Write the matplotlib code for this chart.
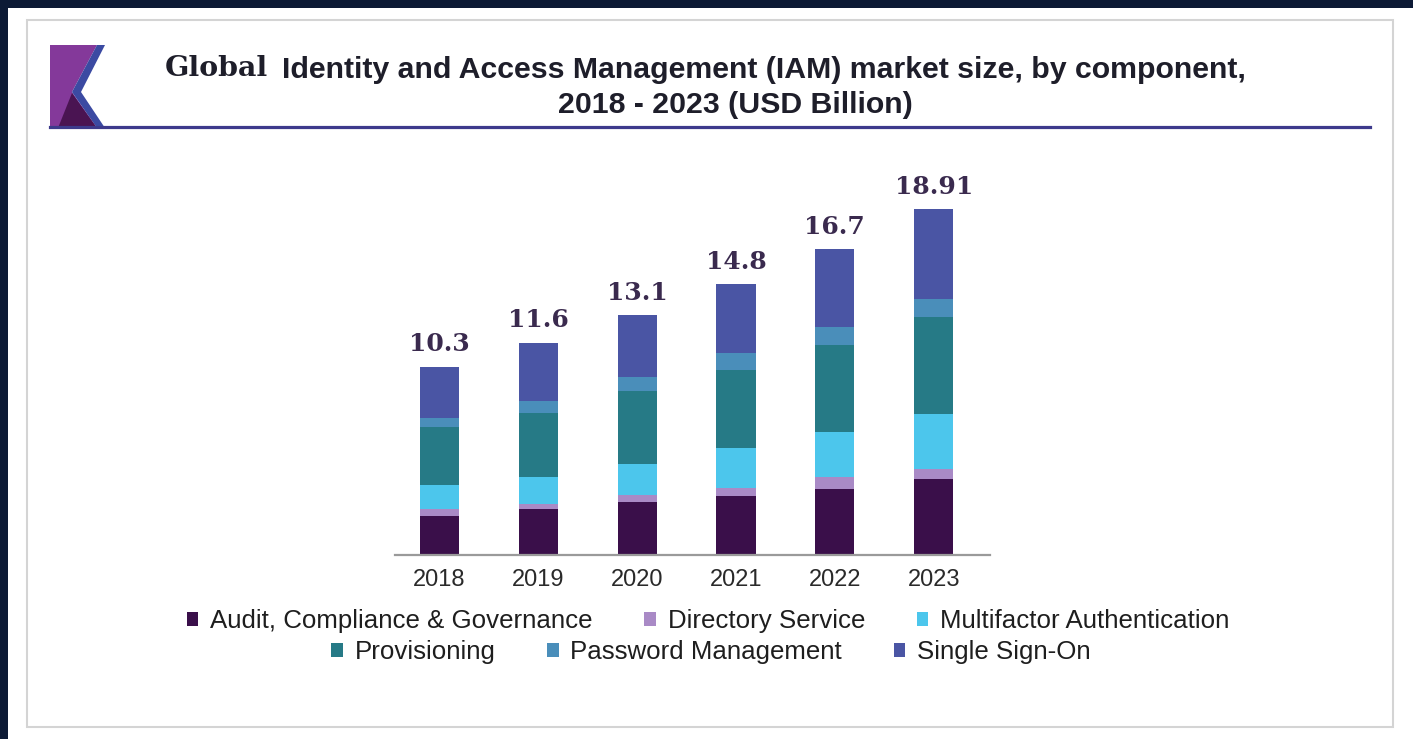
import matplotlib
matplotlib.use("Agg")
import matplotlib.pyplot as plt
from matplotlib.patches import Patch, Polygon, Rectangle
from matplotlib.lines import Line2D

years = ["2018", "2019", "2020", "2021", "2022", "2023"]
totals = ["10.3", "11.6", "13.1", "14.8", "16.7", "18.91"]
segments = ["Audit, Compliance & Governance", "Directory Service",
            "Multifactor Authentication", "Provisioning",
            "Password Management", "Single Sign-On"]
audit = [2.14, 2.49, 2.89, 3.25, 3.59, 4.13]
directory = [0.37, 0.32, 0.39, 0.41, 0.65, 0.59]
mfa = [1.29, 1.44, 1.70, 2.20, 2.47, 2.96]
provisioning = [3.18, 3.52, 3.98, 4.23, 4.79, 5.30]
password = [0.52, 0.67, 0.77, 0.94, 0.97, 1.02]
sso = [2.80, 3.16, 3.37, 3.77, 4.23, 4.91]
series = [audit, directory, mfa, provisioning, password, sso]
colors = ["#3a0f4a", "#a98ac6", "#4cc6ec", "#267a86", "#4a8eba", "#4a55a4"]

W, H = 1413, 739
fig = plt.figure(figsize=(W / 100, H / 100), dpi=100)
fig.patch.set_facecolor("white")

# overlay for decorations in pixel coordinates
ov = fig.add_axes([0, 0, 1, 1], zorder=0)
ov.set_xlim(0, W)
ov.set_ylim(H, 0)
ov.axis("off")
ov.add_patch(Rectangle((0, 0), 8, H, color="#0c1a35", lw=0))
ov.add_patch(Rectangle((0, 0), W, 8, color="#0c1a35", lw=0))
ov.add_patch(Rectangle((27, 20), 1366, 707, fill=False, ec="#d4d4d4", lw=1.5))
# logo
ov.add_patch(Polygon([(50, 45), (97, 45), (72, 92), (97, 128), (50, 128)],
                     closed=True, color="#84399a", lw=0))
ov.add_patch(Polygon([(97, 45), (105, 45), (81, 92), (105, 128), (97, 128), (72, 92)],
                     closed=True, color="#3b4aa2", lw=0))
ov.add_patch(Polygon([(58, 128), (72, 93), (97, 128)], closed=True,
                     color="#4a1452", lw=0))
ov.add_line(Line2D([50, 1370], [127, 127], color="#3d3a8c", lw=2.3))

# titles
ov.text(165, 76, "Global", fontsize=20.5, fontweight="bold", family="DejaVu Serif",
        color="#1e1e2a", ha="left", va="baseline")
ov.text(282, 78, "Identity and Access Management (IAM) market size, by component,",
        fontsize=21.8, fontweight="bold", family="Liberation Sans",
        color="#1e1e2a", ha="left", va="baseline")
ov.text(735, 113, "2018 - 2023 (USD Billion)", fontsize=21.8, fontweight="bold",
        family="Liberation Sans", color="#1e1e2a", ha="center", va="baseline")

# main axes
left_px, right_px, base_px = 395, 990, 555
ppu = 18.3
ymax = 22
ax = fig.add_axes([left_px / W, (H - base_px) / H, (right_px - left_px) / W,
                   ymax * ppu / H], zorder=1)
ax.patch.set_alpha(0)
x = list(range(len(years)))
bottoms = [0.0] * len(years)
for vals, col, name in zip(series, colors, segments):
    ax.bar(x, vals, width=0.395, bottom=bottoms, color=col, label=name,
           edgecolor="none", zorder=2)
    bottoms = [b + v for b, v in zip(bottoms, vals)]
for xi, top, lab in zip(x, bottoms, totals):
    ax.annotate(lab, (xi, top), xytext=(0, 11), textcoords="offset points",
                ha="center", va="baseline", fontsize=18, fontweight="bold",
                family="DejaVu Serif", color="#3a2a4e")
ax.set_xlim(-0.45, 5.57)
ax.set_ylim(0, ymax)
ax.set_xticks(x)
ax.set_xticklabels(years, fontsize=17, family="Liberation Sans", color="#2a2a2a")
ax.tick_params(axis="x", length=0, pad=10)
ax.set_yticks([])
for s in ["left", "right", "top"]:
    ax.spines[s].set_visible(False)
ax.spines["bottom"].set_color("#9a9a9a")
ax.spines["bottom"].set_linewidth(1.6)

handles = [Patch(facecolor=c, edgecolor="none", label=n) for c, n in zip(colors, segments)]
common = dict(loc="center", frameon=False, ncol=3,
              handlelength=0.45, handleheight=0.45, handletextpad=0.45,
              columnspacing=2.0, borderpad=0, borderaxespad=0,
              prop={"family": "Liberation Sans", "size": 18.6})
leg1 = fig.legend(handles=handles[:3], bbox_to_anchor=(708 / W, 1 - 621 / H), **common)
leg2 = fig.legend(handles=handles[3:], bbox_to_anchor=(711 / W, 1 - 652 / H), **common)
for leg in (leg1, leg2):
    for t in leg.get_texts():
        t.set_color("#1e1e1e")

fig.savefig("out.png", dpi=100, facecolor="white")
